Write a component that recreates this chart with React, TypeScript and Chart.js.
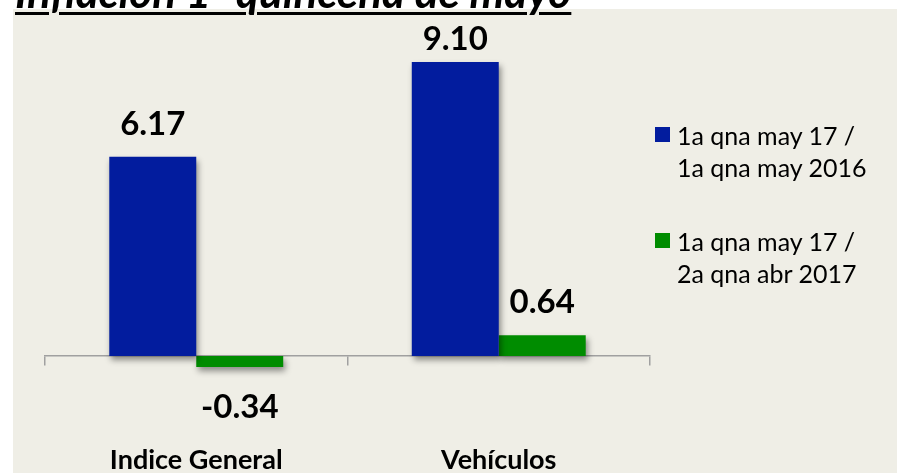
import React, { useEffect, useRef } from 'react';
import { Chart, registerables } from 'chart.js';

Chart.register(...registerables);

const titleText = 'Inflación 1ª quincena de mayo';
const categories = ['Indice General', 'Vehículos'];
const seriesNames = [
  ['1a qna may 17 /', '1a qna may 2016'],
  ['1a qna may 17 /', '2a qna abr 2017'],
];
const annualValues = [6.17, 9.1];
const biweeklyValues = [-0.34, 0.64];
const seriesColors = ['#021C9E', '#008C00'];

const FONT = 'Lato, "Open Sans", "DejaVu Sans", sans-serif';

const shadowPlugin = {
  id: 'barShadow',
  beforeDatasetsDraw(chart: any) {
    const c = chart.ctx;
    c.save();
    c.shadowColor = 'rgba(0,0,0,0.42)';
    c.shadowBlur = 6;
    c.shadowOffsetX = 2;
    c.shadowOffsetY = 4;
  },
  afterDatasetsDraw(chart: any) {
    chart.ctx.restore();
  },
};

const valueLabelPlugin = {
  id: 'valueLabels',
  afterDatasetsDraw(chart: any, _args: any, opts: any) {
    const ctx = chart.ctx;
    ctx.save();
    ctx.font = `bold ${opts.size}px ${FONT}`;
    ctx.fillStyle = '#000';
    ctx.textAlign = 'center';
    ctx.textBaseline = 'alphabetic';
    chart.data.datasets.forEach((ds: any, di: number) => {
      const meta = chart.getDatasetMeta(di);
      meta.data.forEach((el: any, i: number) => {
        const v = ds.data[i];
        const y = v >= 0 ? Math.max(el.y - opts.above, opts.minBaseline) : el.y + opts.below;
        ctx.fillText(v.toFixed(2), el.x, y);
      });
    });
    ctx.restore();
  },
};

export default function App() {
  const canvasRef = useRef<HTMLCanvasElement | null>(null);

  useEffect(() => {
    if (!canvasRef.current) return;
    const chart = new Chart(canvasRef.current, {
      type: 'bar',
      data: {
        labels: categories,
        datasets: [
          {
            label: seriesNames[0].join(' '),
            data: annualValues,
            backgroundColor: seriesColors[0],
            borderWidth: 0,
            barPercentage: 1,
            categoryPercentage: 0.575,
          },
          {
            label: seriesNames[1].join(' '),
            data: biweeklyValues,
            backgroundColor: seriesColors[1],
            borderWidth: 0,
            barPercentage: 1,
            categoryPercentage: 0.575,
          },
        ],
      },
      options: {
        responsive: false,
        animation: false,
        layout: { padding: { left: 32, right: 247, top: 24, bottom: 4 } },
        plugins: {
          legend: { display: false },
          tooltip: { enabled: false },
          title: { display: false },
          valueLabels: { size: 33, above: 22, below: 51, minBaseline: 41 },
        } as any,
        scales: {
          x: {
            position: { y: 0 } as any,
            grid: {
              display: true,
              drawOnChartArea: false,
              drawTicks: true,
              tickLength: 9,
              color: '#A0A0A0',
              lineWidth: 1.5,
              offset: true,
            },
            border: { display: true, color: '#A0A0A0', width: 1.5 },
            ticks: {
              padding: 79,
              color: '#000',
              font: { family: FONT, size: 27, weight: 'bold' },
              maxRotation: 0,
            },
          },
          y: { display: false, min: -3.5, max: 10 },
        },
      },
      plugins: [shadowPlugin, valueLabelPlugin],
    });
    return () => chart.destroy();
  }, []);

  const legendText: React.CSSProperties = {
    position: 'absolute',
    left: 677,
    fontFamily: FONT,
    fontSize: 25,
    lineHeight: '32px',
    color: '#000',
    whiteSpace: 'nowrap',
  };

  return (
    <>
      <style>{'html,body{margin:0;padding:0;overflow:hidden;background:#fff;}'}</style>
      <div
        style={{
          position: 'fixed',
          left: 0,
          top: 0,
          right: 0,
          bottom: 0,
          background: '#FFFFFF',
          overflow: 'hidden',
        }}
      >
        <div
          style={{
            position: 'absolute',
            left: 13,
            top: 9,
            right: 0,
            bottom: 0,
            background: '#EFEEE6',
          }}
        >
          <canvas ref={canvasRef} width={884} height={464} style={{ display: 'block' }} />
        </div>
        <div
          style={{
            position: 'absolute',
            left: 15,
            top: -31,
            fontFamily: FONT,
            fontSize: 44,
            lineHeight: 1,
            fontWeight: 'bold',
            fontStyle: 'italic',
            textDecoration: 'underline',
            textDecorationThickness: '3px',
            textUnderlineOffset: '4px',
            whiteSpace: 'nowrap',
            color: '#000',
          }}
        >
          {titleText}
        </div>
        {seriesNames.map((lines, i) => (
          <React.Fragment key={i}>
            <div
              style={{
                position: 'absolute',
                left: 655,
                top: i === 0 ? 127 : 233,
                width: 15,
                height: 15,
                background: seriesColors[i],
              }}
            />
            <div style={{ ...legendText, top: i === 0 ? 119 : 225 }}>
              {lines.map((t, j) => (
                <div key={j}>{t}</div>
              ))}
            </div>
          </React.Fragment>
        ))}
      </div>
    </>
  );
}
